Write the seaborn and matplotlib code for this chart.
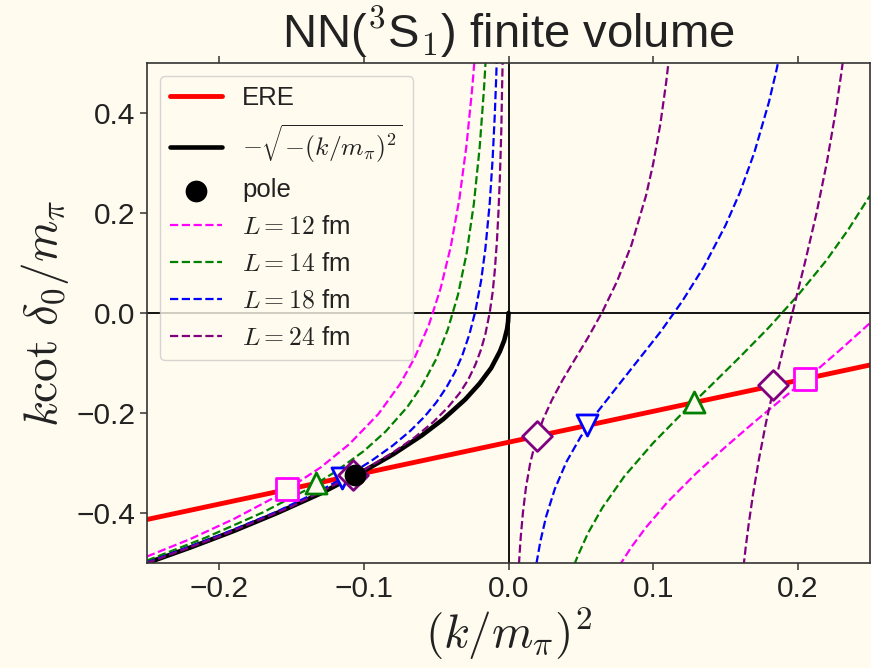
import matplotlib
matplotlib.use('Agg')
import matplotlib.pyplot as plt
import seaborn as sns

# effective range expansion line and the bound state curve
ere_x = [-0.25, 0.25]
ere_y = [-0.413, -0.104]

sqrt_x = [-0.25, -0.22, -0.19, -0.16, -0.13, -0.1, -0.08, -0.06, -0.045, -0.03,
          -0.02, -0.012, -0.006, -0.003, -0.001, -0.0003, 0.0]
sqrt_y = [-0.5, -0.469, -0.436, -0.4, -0.361, -0.316, -0.283, -0.245, -0.212, -0.173,
          -0.141, -0.110, -0.077, -0.055, -0.032, -0.017, 0.0]

pole_x = [-0.1065]
pole_y = [-0.324]

# finite volume curves, one list per branch
l12_neg_x = [-0.25, -0.22, -0.19, -0.16, -0.13, -0.11, -0.09, -0.075, -0.065, -0.055,
             -0.047, -0.04, -0.034, -0.029, -0.025, -0.0235]
l12_neg_y = [-0.487, -0.452, -0.412, -0.366, -0.309, -0.262, -0.202, -0.142, -0.090, -0.023,
             0.049, 0.132, 0.228, 0.337, 0.453, 0.507]
l12_pos_x = [0.0765, 0.085, 0.095, 0.11, 0.13, 0.15, 0.17, 0.19, 0.21, 0.23, 0.25]
l12_pos_y = [-0.506, -0.468, -0.429, -0.378, -0.320, -0.268, -0.218, -0.170, -0.122, -0.072, -0.020]

l14_neg_x = [-0.25, -0.21, -0.17, -0.14, -0.12, -0.1, -0.085, -0.07, -0.06, -0.05,
             -0.042, -0.035, -0.029, -0.024, -0.02, -0.017, -0.0155]
l14_neg_y = [-0.495, -0.450, -0.399, -0.354, -0.318, -0.276, -0.237, -0.188, -0.146, -0.092,
             -0.033, 0.036, 0.119, 0.218, 0.330, 0.447, 0.521]
l14_pos_x = [0.0455, 0.048, 0.055, 0.065, 0.08, 0.1, 0.12, 0.14, 0.16, 0.18, 0.2, 0.22, 0.235, 0.25]
l14_pos_y = [-0.503, -0.485, -0.440, -0.389, -0.327, -0.260, -0.201, -0.145, -0.088, -0.029,
             0.035, 0.106, 0.167, 0.235]

l18_neg_x = [-0.25, -0.2, -0.16, -0.13, -0.11, -0.095, -0.08, -0.068, -0.058, -0.05, -0.043,
             -0.037, -0.032, -0.027, -0.023, -0.019, -0.016, -0.013, -0.011, -0.0095, -0.0085, -0.008]
l18_neg_y = [-0.499, -0.445, -0.397, -0.355, -0.323, -0.296, -0.265, -0.236, -0.207, -0.179, -0.149,
             -0.118, -0.085, -0.042, 0.003, 0.064, 0.129, 0.220, 0.308, 0.397, 0.473, 0.519]
l18_pos_x = [0.0193, 0.022, 0.026, 0.032, 0.04, 0.05, 0.062, 0.075, 0.09, 0.105, 0.12, 0.135,
             0.15, 0.16, 0.17, 0.18, 0.185, 0.187]
l18_pos_y = [-0.501, -0.457, -0.407, -0.352, -0.298, -0.247, -0.196, -0.148, -0.093, -0.038, 0.023,
             0.092, 0.175, 0.241, 0.321, 0.421, 0.482, 0.509]

l24_neg_x = [-0.25, -0.2, -0.15, -0.1, -0.08, -0.065, -0.052, -0.042, -0.034, -0.028, -0.023,
             -0.019, -0.016, -0.013, -0.011, -0.0095, -0.008, -0.007, -0.006, -0.005, -0.0045, -0.004]
l24_neg_y = [-0.500, -0.447, -0.387, -0.314, -0.279, -0.249, -0.218, -0.189, -0.161, -0.134, -0.104,
             -0.073, -0.042, 0.001, 0.041, 0.085, 0.145, 0.200, 0.270, 0.365, 0.445, 0.513]
l24_pos_x = [0.0072, 0.008, 0.0085, 0.01, 0.012, 0.015, 0.019, 0.024, 0.03, 0.037, 0.045, 0.055,
             0.065, 0.075, 0.085, 0.095, 0.1, 0.105, 0.109, 0.111]
l24_pos_y = [-0.503, -0.466, -0.446, -0.398, -0.350, -0.300, -0.254, -0.212, -0.174, -0.136, -0.097,
             -0.049, 0.003, 0.063, 0.136, 0.234, 0.298, 0.378, 0.461, 0.511]
l24_pos2_x = [0.1625, 0.164, 0.166, 0.169, 0.173, 0.178, 0.183, 0.19, 0.197, 0.205, 0.213, 0.22,
              0.226, 0.23, 0.2315]
l24_pos2_y = [-0.507, -0.469, -0.424, -0.364, -0.295, -0.220, -0.155, -0.071, 0.008, 0.101, 0.200,
              0.299, 0.399, 0.477, 0.509]

# crossings of the finite volume curves with the ERE line
sq_x, sq_y = [-0.153, 0.205], [-0.353, -0.132]
up_x, up_y = [-0.133, 0.128], [-0.341, -0.179]
down_x, down_y = [-0.115, 0.0545], [-0.330, -0.225]
dia_x, dia_y = [-0.1075, 0.0195, 0.183], [-0.325, -0.246, -0.145]

bg = '#fffbee'
sns.set_theme(style='ticks', rc={
    'axes.facecolor': bg, 'figure.facecolor': bg, 'savefig.facecolor': bg,
    'axes.edgecolor': '#333333', 'axes.linewidth': 1.2,
    'xtick.color': '#333333', 'ytick.color': '#333333',
    'xtick.labelcolor': '#222222', 'ytick.labelcolor': '#222222',
    'text.color': '#222222', 'axes.labelcolor': '#222222'})
plt.rcParams['font.family'] = ['Liberation Sans', 'DejaVu Sans']
plt.rcParams['mathtext.fontset'] = 'cm'

fig = plt.figure(figsize=(8.71, 6.68), dpi=100)
ax = fig.add_axes([0.1688, 0.1572, 0.8301, 0.7485])

ax.axhline(0, color='black', lw=1.3, zorder=1)
ax.axvline(0, color='black', lw=1.3, zorder=1)

sns.lineplot(x=ere_x, y=ere_y, color='red', linewidth=3.5, label='ERE', ax=ax,
             sort=False, estimator=None)
sns.lineplot(x=sqrt_x, y=sqrt_y, color='black', linewidth=3.3,
             label=r'$-\sqrt{-(k/m_\pi)^2}$', ax=ax, sort=False, estimator=None)
sns.scatterplot(x=pole_x, y=pole_y, color='black', edgecolor='black', s=210,
                label='pole', ax=ax, zorder=6)

curves = [
    ('magenta', r'$L=12$ fm', [(l12_neg_x, l12_neg_y), (l12_pos_x, l12_pos_y)]),
    ('green', r'$L=14$ fm', [(l14_neg_x, l14_neg_y), (l14_pos_x, l14_pos_y)]),
    ('blue', r'$L=18$ fm', [(l18_neg_x, l18_neg_y), (l18_pos_x, l18_pos_y)]),
    ('purple', r'$L=24$ fm', [(l24_neg_x, l24_neg_y), (l24_pos_x, l24_pos_y),
                              (l24_pos2_x, l24_pos2_y)]),
]
for color, label, branches in curves:
    for i, (bx, by) in enumerate(branches):
        sns.lineplot(x=bx, y=by, color=color, linewidth=1.6, linestyle='--',
                     label=label if i == 0 else None, ax=ax, sort=False, estimator=None)

for mx, my, mk, c in [(sq_x, sq_y, 's', 'magenta'), (up_x, up_y, '^', 'green'),
                      (down_x, down_y, 'v', 'blue'), (dia_x, dia_y, 'D', 'purple')]:
    sns.scatterplot(x=mx, y=my, marker=mk, s=230, color=bg, edgecolor=c,
                    linewidth=2, ax=ax, zorder=5)

ax.set_xlim(-0.25, 0.25)
ax.set_ylim(-0.5, 0.5)
ax.set_xticks([-0.2, -0.1, 0.0, 0.1, 0.2])
ax.set_yticks([-0.4, -0.2, 0.0, 0.2, 0.4])
ax.tick_params(axis='x', top=True, direction='out', length=5, width=1.1, labelsize=21.5)
ax.tick_params(axis='y', direction='out', length=5, width=1.1, labelsize=21.5)

ax.set_xlabel(r'$(k/m_\pi)^2$', fontsize=34, labelpad=2)
ax.set_ylabel(r'$k\cot\,\delta_0/m_\pi$', fontsize=34, labelpad=4)
ax.set_title(r'NN($^3$S$_1$) finite volume', fontsize=34, pad=11)

ax.legend(loc='upper left', fontsize=18.5)

fig.savefig('out.png', dpi=100)
